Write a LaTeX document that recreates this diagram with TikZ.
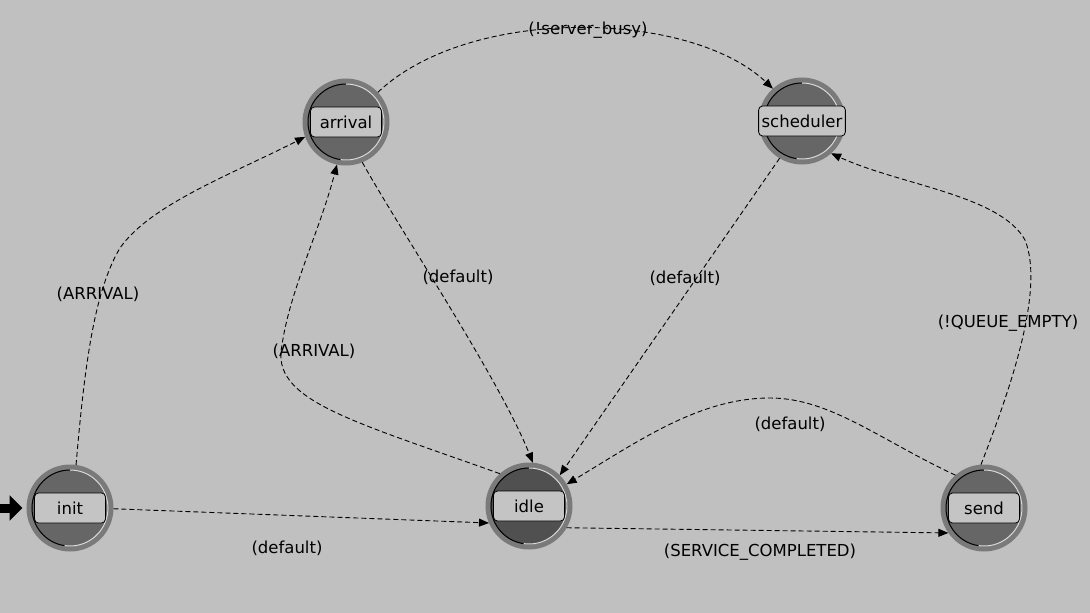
\documentclass[tikz,border=0pt]{standalone}
\usepackage{fontspec}
\setmainfont{DejaVu Sans}
\usetikzlibrary{arrows.meta}

\definecolor{bg}{HTML}{C0C0C0}
\definecolor{ring}{HTML}{7A7A7A}
\definecolor{disk}{HTML}{666666}
\definecolor{diskdark}{HTML}{505050}
\definecolor{boxfill}{HTML}{C4C4C4}
\definecolor{bevlight}{HTML}{DADADA}

\newcommand\labfont{\fontsize{16.5}{19}\selectfont}

% inner bevel of a state ring: dark on the upper left, light on the lower right
\newcommand\statebevel[1]{%
  \draw[black,line width=1pt] ([shift={(90:38)}]#1.center) arc[start angle=90,end angle=262,radius=38];
  \draw[bevlight,line width=1pt] ([shift={(-98:38)}]#1.center) arc[start angle=-98,end angle=90,radius=38];}

\tikzset{
  state/.style={circle, minimum size=82pt, inner sep=0pt, draw=ring, line width=5pt, fill=disk},
  statebox/.style={draw=black, line width=0.8pt, rounded corners=4pt, fill=boxfill,
    minimum width=71pt, minimum height=30pt, inner xsep=3pt, inner ysep=2pt, font=\labfont},
  link/.style={draw=black, line width=0.9pt, dash pattern=on 5pt off 3pt,
    -{Triangle[length=10pt,width=8pt]}},
  lab/.style={font=\labfont, inner sep=1pt},
}

\begin{document}
\begin{tikzpicture}[x=1pt,y=1pt]
\useasboundingbox (0,0) rectangle (1090,-613);
\fill[bg] (0,0) rectangle (1090,-613);

% states
\node[state] (init) at (70,-508) {};
\node[state] (arrival) at (346,-122) {};
\node[state, fill=diskdark] (idle) at (529,-506) {};
\node[state] (scheduler) at (802,-121) {};
\node[state] (send) at (984,-508) {};
\statebevel{init}
\statebevel{arrival}
\statebevel{idle}
\statebevel{scheduler}
\statebevel{send}
\node[statebox] (init-t) at (init) {init};
\node[statebox] (arrival-t) at (arrival) {arrival};
\node[statebox] (idle-t) at (idle) {idle};
\node[statebox] (scheduler-t) at (scheduler) {scheduler};
\node[statebox] (send-t) at (send) {send};

% initial transition marker
\coordinate (entry) at (0,-508);
\draw[line width=9pt, -{Triangle[length=13pt,width=25pt]}, shorten >=4pt] (entry) -- (init.west);

% transitions
\draw[link] (init.82) .. controls (85,-360) and (95,-290) .. (120,-248)
            .. controls (150,-205) and (230,-175) .. (arrival.200);
\draw[link] (arrival.-68) .. controls (400,-230) and (500,-380) .. (idle.85);
\draw[link] (idle.132) .. controls (350,-420) and (270,-400) .. (282,-345)
            .. controls (290,-290) and (320,-230) .. (arrival.258);
\draw[link] (arrival.43) .. controls (470,-5) and (690,-10) .. (scheduler.132);
\draw[link] (scheduler.239) -- (idle.45);
\draw[link] (send.131) .. controls (880,-440) and (830,-398) .. (770,-398)
            .. controls (700,-398) and (640,-440) .. (idle.30);
\draw[link] (send.94) .. controls (1010,-390) and (1045,-290) .. (1025,-240)
            .. controls (1000,-195) and (900,-185) .. (scheduler.-48);
\draw[link] (init.-1) -- (idle.203);
\draw[link] (idle.-30) -- (send.215);

% transition conditions
\node[lab] (l-init-arr) at (98,-294) {(ARRIVAL)};
\node[lab] (l-arr-idle) at (458,-277) {(default)};
\node[lab] (l-idle-arr) at (314,-351) {(ARRIVAL)};
\node[lab] (l-arr-sch) at (588,-30) {(!server\_busy)};
\node[lab] (l-sch-idle) at (685,-278) {(default)};
\node[lab] (l-send-idle) at (790,-424) {(default)};
\node[lab] (l-send-sch) at (1008,-323) {(!QUEUE\_EMPTY)};
\node[lab] (l-init-idle) at (287,-548) {(default)};
\node[lab] (l-idle-send) at (760,-552) {(SERVICE\_COMPLETED)};
\end{tikzpicture}
\end{document}
